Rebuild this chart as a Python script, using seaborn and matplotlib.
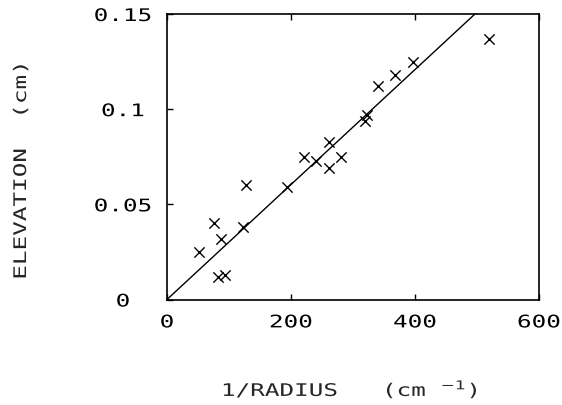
import matplotlib
matplotlib.use("Agg")
import matplotlib.pyplot as plt
from matplotlib.patheffects import AbstractPathEffect
from matplotlib.transforms import Affine2D
import seaborn as sns
import pandas as pd

# Measured elevation against inverse radius
inv_radius = [52, 76, 87, 83, 94, 123, 127, 193, 221, 240, 262, 281,
              261, 319, 322, 341, 368, 397, 520]
elevation = [0.025, 0.040, 0.032, 0.012, 0.013, 0.038, 0.060, 0.059,
             0.075, 0.073, 0.069, 0.075, 0.083, 0.094, 0.097, 0.112,
             0.118, 0.125, 0.137]

# Straight-line fit through the origin
fit_slope = 3.02e-4
fit_x = [0, 600]

x_ticks = [0, 200, 400, 600]
x_tick_labels = ["0", "200", "400", "600"]
y_ticks = [0, 0.05, 0.1, 0.15]
y_tick_labels = ["0", "0.05", "0.1", "0.15"]


class WideGlyphs(AbstractPathEffect):
    """Stretch glyphs along the text direction, keeping the text centred."""

    def __init__(self, factor):
        super().__init__()
        self.factor = factor

    def draw_path(self, renderer, gc, tpath, affine, rgbFace=None):
        ext = tpath.get_extents()
        cx = 0.5 * (ext.x0 + ext.x1)
        stretch = Affine2D().translate(-cx, 0).scale(self.factor, 1).translate(cx, 0)
        renderer.draw_path(gc, tpath, stretch + affine, rgbFace)


wide = [WideGlyphs(1.4)]

sns.set_style("ticks")
plt.rcParams["font.family"] = ["DejaVu Sans Mono", "DejaVu Sans"]
plt.rcParams["mathtext.fontset"] = "dejavusans"

df = pd.DataFrame({"x": inv_radius, "y": elevation})
fit_df = pd.DataFrame({"x": fit_x, "y": [fit_slope * v for v in fit_x]})

fig = plt.figure(figsize=(5.62, 4.06), dpi=100)
ax = fig.add_axes([167 / 562, 1 - 300.5 / 406, 372 / 562, 285.5 / 406])

sns.lineplot(data=fit_df, x="x", y="y", ax=ax, color="black", linewidth=1.0)
sns.scatterplot(data=df, x="x", y="y", ax=ax, marker="x", color="black",
                s=55, linewidth=1.0)

ax.set_xlim(0, 600)
ax.set_ylim(0, 0.15)
ax.set_xticks(x_ticks)
ax.set_xticklabels(x_tick_labels, fontsize=12.5)
ax.set_yticks(y_ticks)
ax.set_yticklabels(y_tick_labels, fontsize=12.5, ha="center")

ax.tick_params(axis="both", direction="in", length=4, width=1.0,
               colors="black")
ax.tick_params(axis="x", top=True, pad=10)
ax.tick_params(axis="y", pad=31.7)

for lab in ax.get_xticklabels() + ax.get_yticklabels():
    lab.set_path_effects(wide)

for sp in ax.spines.values():
    sp.set_visible(True)
    sp.set_linewidth(1.2)
    sp.set_color("black")

ax.set_xlabel("")
ax.set_ylabel("")
fig.text(350 / 562, 1 - 390 / 406, "1/RADIUS   (cm $^{-1}$)", ha="center",
         va="center", fontsize=12.5, path_effects=wide)
fig.text(21 / 562, 1 - 171 / 406, "ELEVATION  (cm)", ha="center",
         va="center", rotation=90, fontsize=12.5, path_effects=wide)

fig.savefig("out.png", dpi=100)
